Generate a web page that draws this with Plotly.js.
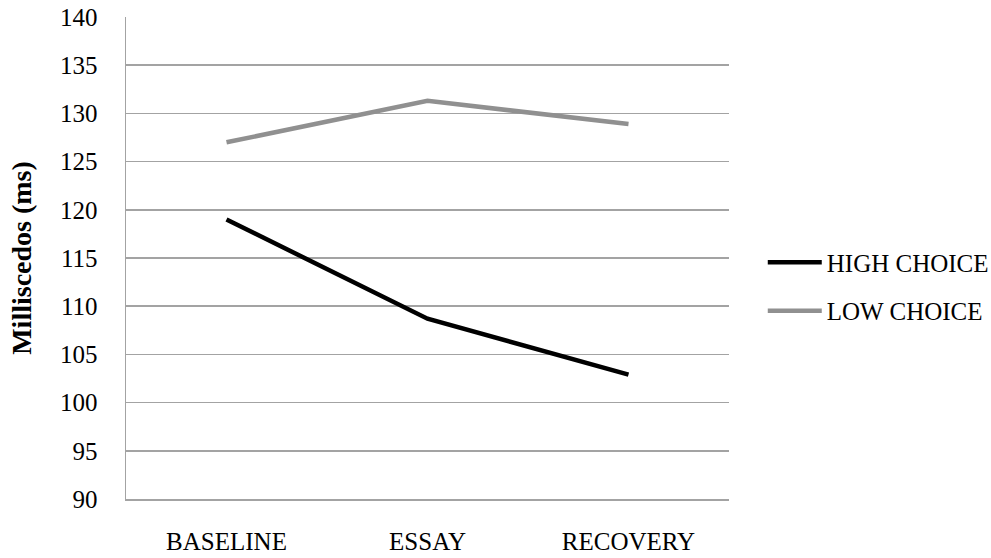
<!DOCTYPE html>
<html>
<head>
<meta charset="utf-8">
<script src="https://cdn.plot.ly/plotly-3.0.1.min.js"></script>
<style>
  html, body { margin: 0; padding: 0; background: #ffffff; }
  #chart { width: 991px; height: 558px; }
</style>
</head>
<body>
<div id="chart"></div>
<script>
// Phases of the session
const phases = ['BASELINE', 'ESSAY', 'RECOVERY'];

// Mean response per condition, in milliseconds
const highChoice = [119.0, 108.7, 102.9];
const lowChoice = [127.0, 131.3, 128.9];

// Y axis ticks
const yTicks = [90, 95, 100, 105, 110, 115, 120, 125, 130, 135, 140];

const serif = 'Liberation Serif, Times New Roman, serif';

const traces = [
  {
    x: phases, y: highChoice, name: 'HIGH CHOICE', type: 'scatter', mode: 'lines',
    line: { color: '#000000', width: 4.5 }, legendgroup: 'high'
  },
  {
    x: phases, y: lowChoice, name: 'LOW CHOICE', type: 'scatter', mode: 'lines',
    line: { color: '#909090', width: 4.5 }, legendgroup: 'low'
  }
];

const layout = {
  width: 991, height: 558,
  margin: { l: 126, r: 262, t: 17, b: 59, autoexpand: false },
  paper_bgcolor: '#ffffff', plot_bgcolor: '#ffffff',
  font: { family: serif, size: 25, color: '#000000' },
  showlegend: true,
  legend: {
    x: 1.056, xanchor: 'left', y: 0.441, yanchor: 'middle',
    font: { family: serif, size: 25, color: '#000000' },
    traceorder: 'grouped', tracegroupgap: 13,
    itemwidth: 54,
    bgcolor: 'rgba(0,0,0,0)'
  },
  xaxis: {
    type: 'category', range: [-0.5, 2.5],
    showgrid: false, zeroline: false,
    showline: true, linecolor: '#a3a3a3', linewidth: 1.5,
    ticks: '',
    ticklabelstandoff: 19,
    tickfont: { family: serif, size: 25, color: '#000000' }
  },
  yaxis: {
    range: [90, 140], tickvals: yTicks, ticktext: yTicks.map(String),
    showgrid: true, gridcolor: '#a3a3a3', gridwidth: 1.5,
    zeroline: false,
    showline: true, linecolor: '#a3a3a3', linewidth: 1.5,
    ticks: '', ticklabelstandoff: 22,
    tickfont: { family: serif, size: 25, color: '#000000' },
    title: {
      text: '<b>Milliscedos (ms)</b>', standoff: 20,
      font: { family: serif, size: 28, color: '#000000' }
    }
  }
};

Plotly.newPlot('chart', traces, layout, { staticPlot: true, displayModeBar: false });
</script>
</body>
</html>
